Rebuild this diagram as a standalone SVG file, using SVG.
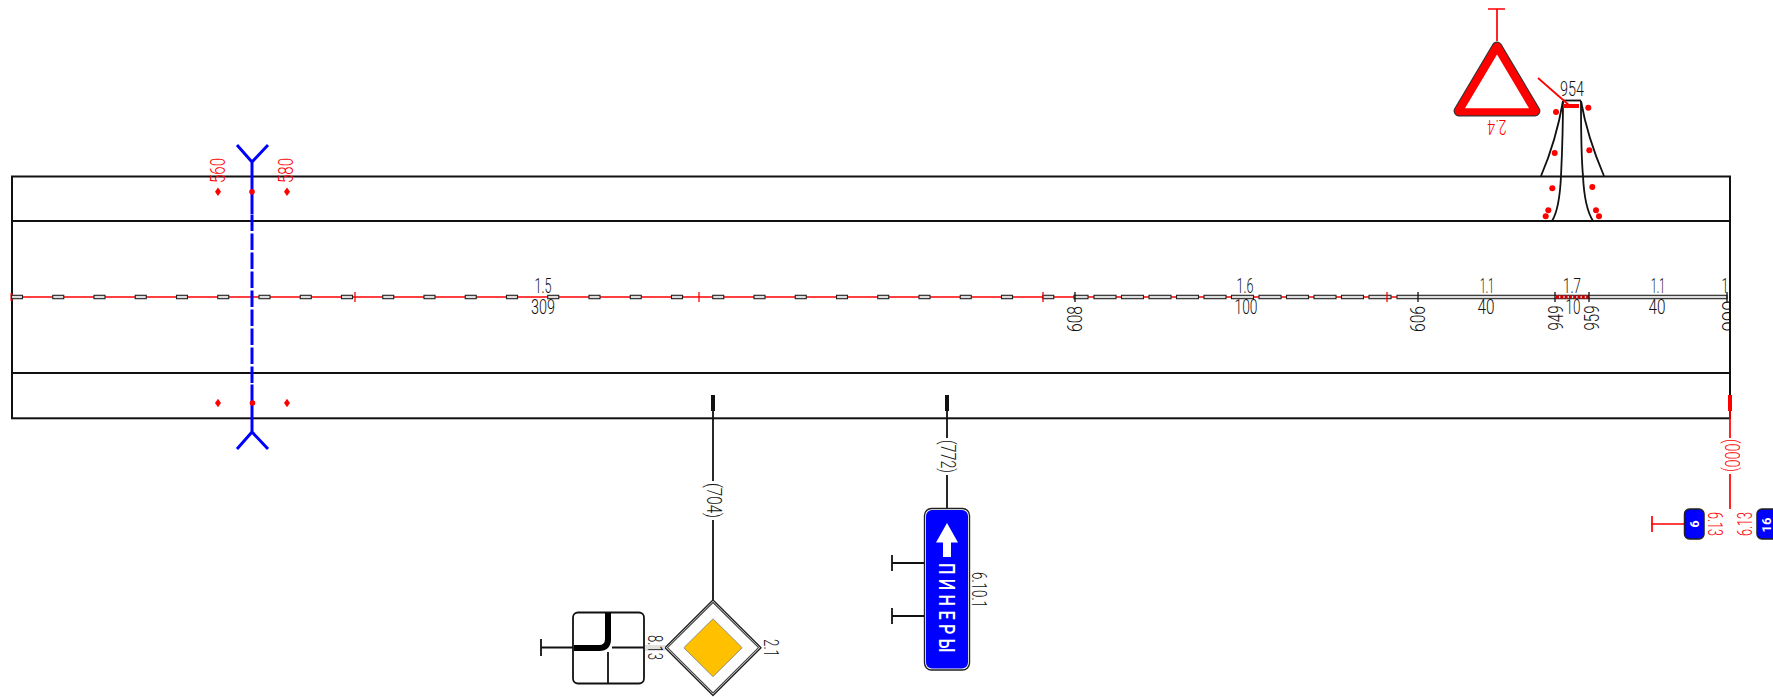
<svg xmlns="http://www.w3.org/2000/svg" width="1773" height="697" viewBox="0 0 1773 697">
<style>
text{font-family:Roboto,"Liberation Sans",sans-serif;font-weight:300;font-size:21px;text-anchor:middle;fill:#111}
.r{fill:#f00}
.w{fill:#fff;font-weight:700}
.road{stroke:#111;stroke-width:2;fill:none}
.k{stroke:#111;stroke-width:1.8;fill:none}
.red{stroke:#f00;stroke-width:1.7;fill:none}
.seg{fill:#dcdcdc;stroke:#222;stroke-width:1.1}
.tick{stroke:#f00;stroke-width:1.3}
.btick{stroke:#111;stroke-width:1.3}
.dot{fill:#f00}
</style>
<defs>
<rect id="s" width="11" height="3.4" y="295.3" class="seg"/>
<rect id="l" width="22" height="3.4" y="295.3" class="seg"/>
<clipPath id="c"><rect x="0" y="0" width="1730" height="697"/></clipPath>
</defs>
<rect width="1773" height="697" fill="#fff"/>

<g id="road">
<rect class="road" x="12" y="176.5" width="1718" height="241.8"/>
<path class="road" d="M12 221H1730M12 373H1730"/>
</g>

<g id="axis">
<path d="M11.5 293V301M1730 293.5V301" stroke="#f00" stroke-width="2"/>
<path d="M12 297H1397" stroke="#f00" stroke-width="1.4"/>
<use href="#s" x="11.5"/><use href="#s" x="52.75"/><use href="#s" x="94"/><use href="#s" x="135.25"/><use href="#s" x="176.5"/><use href="#s" x="217.75"/><use href="#s" x="259"/><use href="#s" x="300.25"/><use href="#s" x="341.5"/><use href="#s" x="382.75"/><use href="#s" x="424"/><use href="#s" x="465.25"/><use href="#s" x="506.5"/><use href="#s" x="547.75"/><use href="#s" x="589"/><use href="#s" x="630.25"/><use href="#s" x="671.5"/><use href="#s" x="712.75"/><use href="#s" x="754"/><use href="#s" x="795.25"/><use href="#s" x="836.5"/><use href="#s" x="877.75"/><use href="#s" x="919"/><use href="#s" x="960.25"/><use href="#s" x="1001.5"/><use href="#s" x="1042.75"/>
<rect x="1074" y="295.3" width="14" height="3.4" class="seg"/>
<use href="#l" x="1094"/><use href="#l" x="1121.5"/><use href="#l" x="1149"/><use href="#l" x="1176.5"/><use href="#l" x="1204"/><use href="#l" x="1231.5"/><use href="#l" x="1259"/><use href="#l" x="1286.5"/><use href="#l" x="1314"/><use href="#l" x="1341.5"/><use href="#l" x="1369"/>
<rect x="1397" y="295.3" width="330" height="3.4" class="seg"/>
<path d="M1556 297H1589" stroke="#c00" stroke-width="3.4" stroke-dasharray="3 1.3"/>
<path class="tick" d="M355 292V302M699 292V302M1043 292V302M1387 292V302"/>
<path class="btick" d="M1075 292V302M1418 292V302M1555 292V302M1589 292V302M1727 292V302"/>
<g clip-path="url(#c)">
<text x="1730" y="293" textLength="17" lengthAdjust="spacingAndGlyphs">1.1</text>
<text transform="translate(1737,316) rotate(-90)" textLength="31" lengthAdjust="spacingAndGlyphs">999</text>
</g>
<text x="543" y="293" textLength="17" lengthAdjust="spacingAndGlyphs">1.5</text>
<text x="543" y="314" textLength="24" lengthAdjust="spacingAndGlyphs">309</text>
<text x="1245" y="293" textLength="17" lengthAdjust="spacingAndGlyphs">1.6</text>
<text x="1246" y="314" textLength="23" lengthAdjust="spacingAndGlyphs">100</text>
<text x="1487" y="293" textLength="14" lengthAdjust="spacingAndGlyphs">1.1</text>
<text x="1486" y="314" textLength="17" lengthAdjust="spacingAndGlyphs">40</text>
<text x="1572" y="293" textLength="18" lengthAdjust="spacingAndGlyphs">1.7</text>
<text x="1573" y="314" textLength="15" lengthAdjust="spacingAndGlyphs">10</text>
<text x="1658" y="293" textLength="14" lengthAdjust="spacingAndGlyphs">1.1</text>
<text x="1657" y="314" textLength="17" lengthAdjust="spacingAndGlyphs">40</text>
<text transform="translate(1082,319) rotate(-90)" textLength="26" lengthAdjust="spacingAndGlyphs">608</text>
<text transform="translate(1425,319) rotate(-90)" textLength="26" lengthAdjust="spacingAndGlyphs">606</text>
<text transform="translate(1562.500,318) rotate(-90)" textLength="25" lengthAdjust="spacingAndGlyphs">949</text>
<text transform="translate(1599,318) rotate(-90)" textLength="25" lengthAdjust="spacingAndGlyphs">959</text>
</g>

<g id="section-blue">
<path d="M237 145L252 162L268 145M252 162V214M252 384.5V432M237 449L252 432L268 449" fill="none" stroke="#00f" stroke-width="3"/>
<path d="M252 214.5V384.5" fill="none" stroke="#00f" stroke-width="3" stroke-dasharray="16.5 2.5"/>
<circle class="dot" cx="252" cy="191.7" r="2.8"/><circle class="dot" cx="252.500" cy="403" r="2.8"/>
<path class="dot" d="M218 187.500L221 191.700L218 196L215 191.700ZM287 187.500L290 191.700L287 196L284 191.700ZM218 398.800L221 403L218 407.300L215 403ZM287 398.800L290 403L287 407.300L284 403Z"/>
<text class="r" transform="translate(225,170.500) rotate(-90)" textLength="25" lengthAdjust="spacingAndGlyphs">560</text>
<text class="r" transform="translate(293,170.500) rotate(-90)" textLength="25" lengthAdjust="spacingAndGlyphs">580</text>
</g>

<g id="crossing">
<path d="M1563 100.500H1581" class="k"/>
<path class="k" d="M1563 101C1558 130 1550 155 1541 176"/>
<path class="k" d="M1563 101C1563 135 1561.500 165 1561 176C1560 198 1557 213 1552 221"/>
<path class="k" d="M1581 101C1581 135 1582 165 1583 176C1584 198 1588 213 1593 221"/>
<path class="k" d="M1581 101C1586 130 1595 155 1604 176"/>
<circle class="dot" cx="1556" cy="112" r="3"/><circle class="dot" cx="1588.300" cy="107.700" r="3"/><circle class="dot" cx="1554.700" cy="153" r="3"/><circle class="dot" cx="1589.300" cy="150.300" r="3"/><circle class="dot" cx="1552.300" cy="188.300" r="3"/><circle class="dot" cx="1592.300" cy="187" r="3"/><circle class="dot" cx="1548.300" cy="210.300" r="3"/><circle class="dot" cx="1545.700" cy="216.300" r="3"/><circle class="dot" cx="1596" cy="210.300" r="3"/><circle class="dot" cx="1599" cy="216.300" r="3"/>
<path d="M1563 106H1579" stroke="#f00" stroke-width="4"/>
<text x="1572" y="96" textLength="24" lengthAdjust="spacingAndGlyphs">954</text>
</g>

<g id="connectors">
<path class="red" d="M1538 78L1570 106"/>
<path class="red" d="M1497 41V9M1488 9H1505"/>
<path class="k" d="M713 411V481M713 520V600"/>
<path class="k" d="M947 411V438M947 475V509"/>
<path class="red" d="M1730 411V438M1730 474V509"/>
<path class="red" d="M1651 524H1684M1652 516V532"/>
<path class="k" d="M541 647.500H573M541 639V656"/>
<path class="k" d="M892 563H924.500M892 555V571M892 616H924.500M892 608V624"/>
<path d="M713 395V411M947 395V411" stroke="#111" stroke-width="4"/>
<path d="M1730 395V411" stroke="#f00" stroke-width="4"/>
<path d="M1730 176V395" stroke="#111" stroke-width="2"/>
<text transform="translate(707,500.500) rotate(90)" textLength="35" lengthAdjust="spacingAndGlyphs">(704)</text>
<text transform="translate(941,456.500) rotate(90)" textLength="33" lengthAdjust="spacingAndGlyphs">(772)</text>
<text class="r" transform="translate(1724.500,455.500) rotate(90)" textLength="33" lengthAdjust="spacingAndGlyphs">(000)</text>
</g>

<g id="sign-2-4">
<polygon points="1497,47 1459,111 1535,111" fill="#fff" stroke="#333" stroke-width="10.800" stroke-linejoin="round"/>
<polygon points="1497,47 1459,111 1535,111" fill="#fff" stroke="#f00" stroke-width="8.600" stroke-linejoin="round"/>
<polygon points="1497,54.500 1465,108.300 1529,108.300" fill="#fff"/>
<text class="r" transform="translate(1497,120) rotate(180)" textLength="19" lengthAdjust="spacingAndGlyphs">2.4</text>
</g>

<g id="sign-2-1">
<polygon points="713,600 761,647.700 713,695.500 665,647.700" fill="#fff" stroke="#222" stroke-width="1.400" stroke-linejoin="round"/>
<polygon points="713,602.500 758.500,647.700 713,693 667.500,647.700" fill="#fff" stroke="#444" stroke-width="1.100" stroke-linejoin="round"/>
<polygon points="713,621 740,647.700 713,674.500 686,647.700" fill="#ffc000" stroke="#ffc000" stroke-width="3" stroke-linejoin="round"/>
<polygon points="713,618.800 742.200,647.700 713,676.700 683.800,647.700" fill="none" stroke="#666" stroke-width=".7" stroke-linejoin="round"/>
<text transform="translate(764,648) rotate(90)" textLength="18" lengthAdjust="spacingAndGlyphs">2.1</text>
</g>

<g id="sign-8-13">
<rect x="645" y="645" width="20" height="6" fill="#e0e0e0"/>
<rect x="573" y="612.500" width="71" height="71" rx="5" fill="#fff" stroke="#111" stroke-width="1.800"/>
<path d="M574 648H599Q608 648 608 639V613" fill="none" stroke="#000" stroke-width="6"/>
<path class="k" d="M612 647.500H644M608 652V683"/>
<text transform="translate(648,647.500) rotate(90)" textLength="25" lengthAdjust="spacingAndGlyphs">8.13</text>
</g>

<g id="sign-6-10-1">
<rect x="924.500" y="508.500" width="45" height="161.500" rx="7" fill="#fff" stroke="#222" stroke-width="1.400"/>
<rect x="926" y="510" width="42" height="158.500" rx="6" fill="#00f"/>
<path d="M947 523L958 542.500H951V557H943V542.500H936Z" fill="#fff"/>
<text class="w" style="font-weight:500;font-size:22px;letter-spacing:6px" transform="translate(938.500,610) rotate(90)" textLength="94" lengthAdjust="spacingAndGlyphs">ПИНЕРЫ</text>
<text transform="translate(972,590) rotate(90)" textLength="36" lengthAdjust="spacingAndGlyphs">6.10.1</text>
</g>

<g id="sign-6-13-a">
<rect x="1684.500" y="509" width="19.500" height="30" rx="5" fill="#00f" stroke="#222" stroke-width="1.500"/>
<text class="w" style="font-size:13px" transform="translate(1689.500,524) rotate(90)">9</text>
<text class="r" transform="translate(1708,524) rotate(90)" textLength="24" lengthAdjust="spacingAndGlyphs">6.13</text>
</g>

<g id="sign-6-13-b">
<rect x="1757" y="509" width="22" height="30" rx="5" fill="#00f" stroke="#222" stroke-width="1.500"/>
<text class="w" style="font-size:13px" transform="translate(1770.500,525) rotate(-90)">16</text>
<text class="r" transform="translate(1752,524) rotate(-90)" textLength="24" lengthAdjust="spacingAndGlyphs">6.13</text>
</g>
</svg>
